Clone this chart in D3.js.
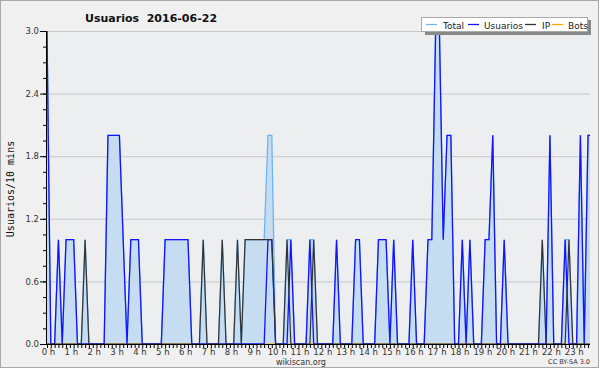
<!DOCTYPE html>
<html><head><meta charset="utf-8">
<script src="https://cdn.jsdelivr.net/npm/d3@7"></script>
<style>body{margin:0;background:#fff}svg{display:block}</style>
</head><body><svg id="c" width="600" height="370"></svg>
<script>
const titleText = "Usuarios  2016-06-22";
const yLabelText = "Usuarios/10 mins";
const hourLabels = ["0 h","1 h","2 h","3 h","4 h","5 h","6 h","7 h","8 h","9 h","10 h","11 h","12 h","13 h","14 h","15 h","16 h","17 h","18 h","19 h","20 h","21 h","22 h","23 h"];
const yTickValues = [0, 0.6, 1.2, 1.8, 2.4, 3.0];
const seriesNames = ["Total", "Usuarios", "IP", "Bots"];
const seriesColors = ["#6cb4f2", "#1414ff", "#333333", "#ffa200"];

const usuarios = [3,0,0,1,0,1,1,1,0,0, 0,0,0,0,0,0,2,2,2,2, 1,0,1,1,1,0,0,0,0,0,
 0,1,1,1,1,1,1,1,0,0, 0,0,0,0,0,0,0,0,0,0, 0,0,0,0,0,0,0,0,1,1,
 0,0,0,0,1,0,0,0,0,1, 0,0,0,0,0,0,1,0,0,0, 0,1,1,0,0,0,0,1,1,1,
 0,1,0,0,0,0,1,0,0,0, 1,1,3,3,1,2,2,0,0,1, 0,1,0,0,0,1,1,2,0,0,
 1,0,0,0,0,0,0,0,0,0, 0,0,2,0,0,0,1,0,0,0, 2,0,2,2];
const ip = [0,0,0,0,0,0,0,0,0,0, 1,0,0,0,0,0,0,0,0,0, 0,0,0,0,0,0,0,0,0,0,
 0,0,0,0,0,0,0,0,0,0, 0,1,0,0,0,0,1,0,0,0, 1,0,1,1,1,1,1,1,1,1,
 0,0,0,1,0,0,0,0,0,0, 1,0,0,0,0,0,0,0,0,0, 0,0,0,0,0,0,0,0,0,0,
 0,0,0,0,0,0,0,0,0,0, 0,0,0,0,0,0,0,0,0,0, 0,0,0,0,0,0,0,0,0,0,
 0,0,0,0,0,0,0,0,0,0, 1,0,0,0,0,0,0,1,0,0, 0,0,0,0];
const total = [3,0,0,1,0,1,1,1,0,0, 1,0,0,0,0,0,2,2,2,2, 1,0,1,1,1,0,0,0,0,0,
 0,1,1,1,1,1,1,1,0,0, 0,1,0,0,0,0,1,0,0,0, 1,0,1,1,1,1,1,1,2,2,
 0,0,0,1,1,0,0,0,0,1, 1,0,0,0,0,0,1,0,0,0, 0,1,1,0,0,0,0,1,1,1,
 0,1,0,0,0,0,1,0,0,0, 1,1,3,3,1,2,2,0,0,1, 0,1,0,0,0,1,1,2,0,0,
 1,0,0,0,0,0,0,0,0,0, 1,0,2,0,0,0,1,1,0,0, 2,0,2,2];
const bots = new Array(144).fill(0);

const svg = d3.select("#c");
const W = 600, H = 370;
const L = 46, R = 590, T = 31, B = 344;

svg.append("rect").attr("x",0.5).attr("y",0.5).attr("width",W-2).attr("height",H-3)
  .attr("fill","#f0f0f0").attr("stroke","#a8a8a8");
svg.append("rect").attr("x",L).attr("y",T).attr("width",R-L).attr("height",B-T).attr("fill","#eceef0");
svg.append("clipPath").attr("id","plotclip").append("rect")
  .attr("x",L).attr("y",T-2).attr("width",R-L).attr("height",B-T+4);

const x = d3.scaleLinear().domain([0, total.length - 1]).range([47, 47 + 3.81 * (total.length - 1)]);
const y = d3.scaleLinear().domain([0, 3]).range([B, T]);

// grid
svg.append("g").selectAll("line").data(yTickValues.slice(1)).join("line")
  .attr("x1", L).attr("x2", R).attr("y1", d => y(d) + 0.5).attr("y2", d => y(d) + 0.5)
  .attr("stroke", "#c8c8c8").attr("stroke-width", 1);

const idx = d3.range(total.length);
const plot = svg.append("g").attr("clip-path","url(#plotclip)");
plot.append("path").datum(idx)
  .attr("d", d3.area().x(i => x(i)).y0(y(0)).y1(i => y(total[i])))
  .attr("fill", "#c5dcf1");

const line = arr => d3.line().x(i => x(i)).y(i => y(arr[i]));
plot.append("path").datum(idx).attr("d", line(bots)).attr("fill","none").attr("stroke", seriesColors[3]).attr("stroke-width",1.2);
plot.append("path").datum(idx).attr("d", line(total)).attr("fill","none").attr("stroke", seriesColors[0]).attr("stroke-width",1.3);
plot.append("path").datum(idx).attr("d", line(usuarios)).attr("fill","none").attr("stroke", seriesColors[1]).attr("stroke-width",1.3);
plot.append("path").datum(idx).attr("d", line(ip)).attr("fill","none").attr("stroke", seriesColors[2]).attr("stroke-width",1.2);

// y axis
const yMinor = d3.range(0, 3.0001, 0.15);
const gy = svg.append("g").attr("transform", `translate(${L},0)`);
gy.append("g").call(d3.axisLeft(y).tickValues(yMinor).tickSize(3).tickFormat(""))
  .call(g => g.select(".domain").remove());
gy.append("g").call(d3.axisLeft(y).tickValues(yTickValues).tickSize(6).tickPadding(1).tickFormat(d3.format(".1f")))
  .call(g => g.select(".domain").remove())
  .call(g => g.selectAll("text").attr("font-family","DejaVu Sans").attr("font-size","8.5px").attr("fill","#333"));
gy.selectAll("line").attr("stroke","#000");

// x axis
const tickIdx = idx.filter(i => x(i) <= R + 0.5);
const gx = svg.append("g").attr("transform", `translate(0,${B})`);
gx.append("g").call(d3.axisBottom(x).tickValues(tickIdx).tickSize(4).tickFormat(""))
  .call(g => g.select(".domain").remove());
gx.selectAll("line").attr("stroke","#000");
gx.append("g").selectAll("text").data(hourLabels).join("text")
  .attr("x", (d, h) => x(h * 6) + 1.5).attr("y", 11)
  .attr("text-anchor","middle").attr("font-family","DejaVu Sans").attr("font-size","8.5px").attr("fill","#333")
  .text(d => d);

svg.append("line").attr("x1",L+0.5).attr("x2",L+0.5).attr("y1",T).attr("y2",B+1).attr("stroke","#000");
svg.append("line").attr("x1",L).attr("x2",R).attr("y1",B+0.5).attr("y2",B+0.5).attr("stroke","#000");

// title & labels
svg.append("text").attr("x",85).attr("y",21.5).attr("font-family","DejaVu Sans").attr("font-weight","bold")
  .attr("font-size","11px").attr("fill","#111").style("white-space","pre").text(titleText);
svg.append("text").attr("transform","translate(14,189) rotate(-90)").attr("text-anchor","middle")
  .attr("font-family","DejaVu Sans Mono").attr("font-size","10px").attr("fill","#111").text(yLabelText);
svg.append("text").attr("x",301).attr("y",365).attr("text-anchor","middle")
  .attr("font-family","DejaVu Sans").attr("font-size","8px").attr("fill","#333").text("wikiscan.org");
svg.append("text").attr("x",590).attr("y",364).attr("text-anchor","end")
  .attr("font-family","DejaVu Sans").attr("font-size","6.5px").attr("fill","#333").text("CC BY-SA 3.0");

// legend
const lg = svg.append("g");
lg.append("rect").attr("x",425).attr("y",20).attr("width",166).attr("height",15).attr("fill","#888");
lg.append("rect").attr("x",421.5).attr("y",17.5).attr("width",166).attr("height",14).attr("fill","#fff").attr("stroke","#aaa");
const lx = [426, 468, 525, 552];
const tx = [443, 484, 542, 568];
seriesNames.forEach((n, k) => {
  lg.append("line").attr("x1",lx[k]).attr("x2",lx[k]+11).attr("y1",24.5).attr("y2",24.5).attr("stroke",seriesColors[k]).attr("stroke-width",1.3);
  lg.append("text").attr("x",tx[k]).attr("y",28.5).attr("font-family","DejaVu Sans").attr("font-size","9px").attr("fill","#222").text(n);
});
</script></body></html>
